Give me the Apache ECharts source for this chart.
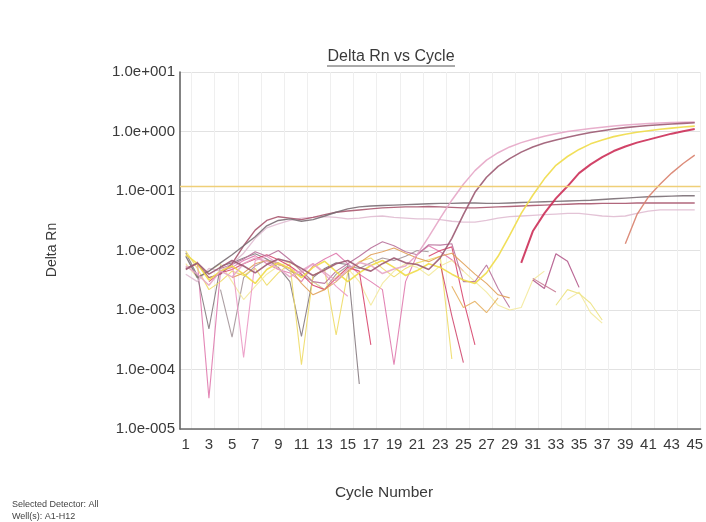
<!DOCTYPE html>
<html>
<head>
<meta charset="utf-8">
<script src="https://cdn.jsdelivr.net/npm/echarts@6/dist/echarts.min.js"></script>
<style>
  html, body { margin: 0; padding: 0; background: #ffffff; }
  #chart { width: 706px; height: 522px; }
</style>
</head>
<body>
<div id="chart"></div>
<script>
// Cycle numbers (x categories)
const cycles = [1,2,3,4,5,6,7,8,9,10,11,12,13,14,15,16,17,18,19,20,21,22,23,24,25,26,27,28,29,30,31,32,33,34,35,36,37,38,39,40,41,42,43,44,45];

// Log-axis tick labels, from 1e-5 up to 1e+1
const yTickLabels = ['1.0e-005','1.0e-004','1.0e-003','1.0e-002','1.0e-001','1.0e+000','1.0e+001'];

// Threshold level
const thresholdValue = 0.118;

// Amplification curves (Delta Rn per cycle)
const ampPink = [0.0055,0.0040,0.0026,0.0045,0.0036,0.0060,0.0075,0.0066,0.0050,0.0036,
  0.0046,0.0060,0.0043,0.0031,0.0049,0.0063,0.0056,0.0041,0.0049,0.0055,
  0.0085,0.0170,0.0350,0.0700,0.1300,0.2200,0.3300,0.4400,0.5500,0.6500,
  0.7400,0.8300,0.9200,1.0000,1.0600,1.1200,1.1800,1.2400,1.2900,1.3300,
  1.3600,1.3900,1.4100,1.4300,1.4500];
const ampMauve = [0.0048,0.0062,0.0040,0.0052,0.0068,0.0055,0.0042,0.0058,0.0072,0.0064,
  0.0050,0.0038,0.0047,0.0060,0.0068,0.0052,0.0045,0.0060,0.0075,0.0062,
  0.0058,0.0048,0.0075,0.0160,0.0400,0.0950,0.1700,0.2600,0.3500,0.4500,
  0.5500,0.6400,0.7200,0.8000,0.8800,0.9600,1.0300,1.1000,1.1600,1.2100,
  1.2600,1.3000,1.3400,1.3700,1.4000];
const ampYellow = [0.0085,0.0060,0.0032,0.0045,0.0055,0.0040,0.0028,0.0048,0.0062,0.0050,
  0.0035,0.0052,0.0066,0.0044,0.0030,0.0042,0.0056,0.0068,0.0052,0.0038,
  0.0046,0.0060,0.0052,0.0040,0.0032,0.0028,0.0042,0.0080,0.0180,0.0420,
  0.0850,0.1600,0.2700,0.3800,0.5000,0.6200,0.7200,0.8200,0.9000,0.9700,
  1.0300,1.0900,1.1400,1.1900,1.2300];
const ampRed = [null,null,null,null,null,null,null,null,null,null,
  null,null,null,null,null,null,null,null,null,null,
  null,null,null,null,null,null,null,null,null,0.0062,
  0.021,0.042,0.075,0.12,0.20,0.28,0.37,0.47,0.56,0.65,
  0.73,0.82,0.92,1.01,1.10];
const ampSalmon = [null,null,null,null,null,null,null,null,null,null,
  null,null,null,null,null,null,null,null,null,null,
  null,null,null,null,null,null,null,null,null,null,
  null,null,null,null,null,null,null,null,0.013,0.040,
  0.080,0.13,0.20,0.29,0.40];

// Slowly drifting background wells
const driftGray = [0.008,0.0035,0.0045,0.0062,0.0085,0.012,0.017,0.026,0.032,0.034,
  0.031,0.033,0.038,0.044,0.050,0.054,0.056,0.057,0.058,0.059,
  0.060,0.061,0.062,0.062,0.063,0.063,0.062,0.062,0.063,0.064,
  0.065,0.066,0.067,0.068,0.069,0.070,0.072,0.074,0.076,0.078,
  0.080,0.081,0.082,0.083,0.083];
const driftRose = [0.005,0.006,0.0035,0.004,0.006,0.012,0.022,0.032,0.037,0.035,
  0.033,0.036,0.040,0.044,0.046,0.048,0.050,0.052,0.053,0.054,
  0.054,0.055,0.054,0.053,0.052,0.052,0.053,0.054,0.055,0.056,
  0.057,0.058,0.059,0.060,0.061,0.061,0.062,0.062,0.062,0.063,
  0.063,0.063,0.063,0.063,0.063];
const driftLilac = [0.004,0.003,0.005,0.0045,0.006,0.009,0.016,0.024,0.028,0.032,
  0.035,0.036,0.037,0.036,0.034,0.035,0.037,0.038,0.036,0.035,
  0.034,0.034,0.033,0.031,0.030,0.030,0.032,0.035,0.037,0.038,
  0.039,0.040,0.041,0.042,0.042,0.040,0.038,0.037,0.038,0.042,
  0.046,0.048,0.048,0.048,0.048];

// Noisy negative wells (gaps where Delta Rn drops below zero)
const noisePink1 = [null,0.0065,0.000033,0.0045,0.0052,0.0068,0.0082,0.0060,0.0048,0.0042,
  0.0030,0.0055,0.0072,0.0090,0.0060,0.0040,0.0030,0.0022,0.00012,0.0030,
  0.0085,0.0120,0.0095,0.0070,0.0045,null,null,null,null,null,
  null,null,null,null,null,null,null,null,null,null,
  null,null,null,null,null];
const noiseGray1 = [0.0092,0.0038,0.00048,0.0055,0.0062,0.0075,0.0088,0.0072,0.0052,0.0030,
  0.00036,0.0035,0.0050,0.0062,0.0058,0.000057,null,null,null,null,
  null,null,null,null,null,null,null,null,null,null,
  null,null,null,null,null,null,null,null,null,null,
  null,null,null,null,null];
const noiseGray2 = [null,null,null,0.0022,0.00035,0.0035,0.0055,0.0070,0.0062,0.0045,
  0.0038,0.0030,0.0022,0.0040,0.0055,0.0050,0.0062,0.0075,0.0068,0.0080,
  0.0100,0.0095,null,null,null,null,null,null,null,null,
  null,null,null,null,null,null,null,null,null,null,
  null,null,null,null,null];
const noiseYellow1 = [0.0098,0.0050,0.0022,0.0030,0.0045,0.0038,0.0050,0.0026,0.0042,0.0060,
  0.00012,0.0038,0.0048,0.00038,0.0042,0.0065,0.0075,0.0050,0.0036,0.0050,
  0.0062,0.0070,0.0080,0.00015,null,null,null,null,null,null,
  null,null,null,null,null,null,null,null,null,null,
  null,null,null,null,null];
const noiseYellow2 = [0.0060,0.0035,0.0045,0.0060,0.0030,0.0015,0.0025,0.0040,0.0055,0.0065,
  0.0045,0.0030,0.0022,0.0036,0.0050,0.0030,0.0012,0.0028,0.0045,0.0060,
  0.0052,0.0038,0.0055,0.0068,0.0045,0.0030,0.0020,0.0012,0.0010,0.0011,
  0.0032,0.0045,null,0.0015,0.0020,0.0009,0.0006,null,null,null,
  null,null,null,null,null];
const noiseRed = [null,null,0.0030,0.0042,0.0048,0.0060,0.0072,0.0085,0.0070,0.0055,
  0.0040,0.0026,0.0022,0.0034,0.0052,0.0045,0.00026,null,null,null,
  null,0.0080,0.0100,0.0115,0.0015,0.00026,null,null,null,null,
  null,null,null,null,null,null,null,null,null,null,
  null,null,null,null,null];
const noiseMauve = [null,null,null,0.0050,0.0058,0.0072,0.0095,0.0080,0.0100,0.0070,
  0.0045,0.0030,0.0028,0.0045,0.0060,0.0080,0.0110,0.0140,0.0120,0.0095,
  0.0085,0.0125,0.0123,0.0130,0.0030,0.0030,0.0057,0.0023,0.0011,null,
  null,null,null,null,null,null,null,null,null,null,
  null,null,null,null,null];
const noiseOrange = [null,null,null,null,0.0035,0.0042,0.0060,0.0068,0.0058,0.0050,
  0.0028,0.0018,0.0022,0.0030,0.0045,0.0062,0.0085,0.0095,0.0110,0.0090,
  0.0075,0.0065,0.0080,0.0090,0.0060,0.0040,0.0028,0.0018,0.0016,null,
  null,null,null,null,null,null,null,null,null,null,
  null,null,null,null,null];
const noisePink2 = [null,null,null,null,0.0065,0.00016,0.0068,0.0080,0.0060,0.0050,
  0.0042,0.0060,0.0040,0.0025,0.0017,null,null,null,null,null,
  null,null,null,null,null,null,null,null,null,null,
  null,null,null,null,null,null,null,null,null,null,
  null,null,null,null,null];
const fragMauve = [null,null,null,null,null,null,null,null,null,null,
  null,null,null,null,null,null,null,null,null,null,
  null,null,null,null,null,null,null,null,null,null,
  0.0032,0.0023,0.0088,0.0066,0.0024,null,null,null,null,null,
  null,null,null,null,null];
const fragRose = [null,null,null,null,null,null,null,null,null,null,
  null,null,null,null,null,null,null,null,null,null,
  null,null,null,null,null,null,null,null,null,null,
  0.0034,0.0026,0.0020,null,null,null,null,null,null,null,
  null,null,null,null,null];
const fragRed = [null,null,null,null,null,null,null,null,null,null,
  null,null,null,null,null,null,null,null,null,null,
  null,null,0.0060,0.0008,0.00013,null,null,null,null,null,
  null,null,null,null,null,null,null,null,null,null,
  null,null,null,null,null];
const fragYellow = [null,null,null,null,null,null,null,null,null,null,
  null,null,null,null,null,null,null,null,null,null,
  null,null,null,null,null,null,null,null,null,null,
  null,null,0.0012,0.0022,0.0019,0.0013,0.00068,null,null,null,
  null,null,null,null,null];
const fragOrange = [null,null,null,null,null,null,null,null,null,null,
  null,null,null,null,null,null,null,null,null,null,
  null,null,null,0.0025,0.0011,0.0014,0.0009,0.0016,null,null,
  null,null,null,null,null,null,null,null,null,null,
  null,null,null,null,null];

const FONT = 'Liberation Sans, Arial, sans-serif';

function line(name, data, color, width, extra) {
  return Object.assign({
    name: name,
    type: 'line',
    data: data,
    symbol: 'none',
    connectNulls: false,
    silent: true,
    lineStyle: { color: color, width: width, opacity: 0.9 },
    emphasis: { disabled: true }
  }, extra || {});
}

const series = [
  line('noisePink1', noisePink1, '#e07aae', 1.1),
  line('noiseGray1', noiseGray1, '#857a80', 1.1),
  line('noiseGray2', noiseGray2, '#a39599', 1.1),
  line('noiseYellow1', noiseYellow1, '#eedc66', 1.1),
  line('noiseYellow2', noiseYellow2, '#f3e99c', 1.1),
  line('noiseRed', noiseRed, '#d8476e', 1.1),
  line('noiseMauve', noiseMauve, '#b8709a', 1.1),
  line('noiseOrange', noiseOrange, '#e0a058', 1.1),
  line('noisePink2', noisePink2, '#eb98c4', 1.1),
  line('fragMauve', fragMauve, '#b45a8c', 1.2),
  line('fragRose', fragRose, '#c87a94', 1.1),
  line('fragRed', fragRed, '#d04a70', 1.1),
  line('fragYellow', fragYellow, '#ece27e', 1.1),
  line('fragOrange', fragOrange, '#e6b060', 1.1),
  line('driftLilac', driftLilac, '#e0bcd2', 1.3),
  line('driftRose', driftRose, '#a8566e', 1.4),
  line('driftGray', driftGray, '#7a6e74', 1.4),
  line('ampSalmon', ampSalmon, '#d8806c', 1.4),
  line('ampYellow', ampYellow, '#f0dc48', 1.6),
  line('ampPink', ampPink, '#e6a6c6', 1.5),
  line('ampMauve', ampMauve, '#9c5a72', 1.6),
  line('ampRed', ampRed, '#cc2f58', 2.0, {
    markLine: {
      silent: true,
      symbol: 'none',
      label: { show: false },
      lineStyle: { color: '#efcf78', width: 1.3, type: 'solid' },
      data: [{ yAxis: thresholdValue }]
    }
  })
];

const chart = echarts.init(document.getElementById('chart'), null, { renderer: 'canvas' });
chart.setOption({
  animation: false,
  backgroundColor: '#ffffff',
  grid: { left: 180, top: 72, width: 527, height: 357, containLabel: false },
  xAxis: {
    type: 'category',
    data: cycles,
    boundaryGap: true,
    axisLine: { show: true, lineStyle: { color: '#6a6a6a', width: 1.5 } },
    axisTick: { show: false },
    axisLabel: { interval: 1, color: '#3a3a3a', fontSize: 15, fontFamily: FONT, margin: 8 },
    splitLine: {
      show: true,
      interval: function (index) { return index % 2 === 1; },
      lineStyle: { color: '#efefef', width: 1 }
    }
  },
  yAxis: {
    type: 'log',
    logBase: 10,
    min: 1e-5,
    max: 10,
    splitNumber: 6,
    axisLine: { show: true, lineStyle: { color: '#5a5a5a', width: 1.5 } },
    axisTick: { show: false },
    axisLabel: {
      color: '#3a3a3a',
      fontSize: 15,
      fontFamily: FONT,
      margin: 5,
      formatter: function (v) {
        const i = Math.round(Math.log10(v)) + 5;
        return yTickLabels[i] || '';
      }
    },
    splitLine: { show: true, lineStyle: { color: '#e2e2e2', width: 1 } }
  },
  graphic: [
    {
      type: 'text', x: 391, y: 57,
      style: { text: 'Delta Rn vs Cycle', fill: '#3a3a3a', font: '16px ' + FONT, align: 'center', verticalAlign: 'middle' }
    },
    {
      type: 'line', shape: { x1: 327, y1: 66, x2: 455, y2: 66 },
      style: { stroke: '#555555', lineWidth: 1 }
    },
    {
      type: 'text', x: 52, y: 250, rotation: Math.PI / 2,
      style: { text: 'Delta Rn', fill: '#3a3a3a', font: '14px ' + FONT, align: 'center', verticalAlign: 'middle' }
    },
    {
      type: 'text', x: 384, y: 493,
      style: { text: 'Cycle Number', fill: '#3a3a3a', font: '15.5px ' + FONT, align: 'center', verticalAlign: 'middle' }
    },
    {
      type: 'text', x: 12, y: 505,
      style: { text: 'Selected Detector: All', fill: '#444444', font: '9px ' + FONT, verticalAlign: 'middle' }
    },
    {
      type: 'text', x: 12, y: 517,
      style: { text: 'Well(s): A1-H12', fill: '#444444', font: '9px ' + FONT, verticalAlign: 'middle' }
    }
  ],
  series: series
});
</script>
</body>
</html>
